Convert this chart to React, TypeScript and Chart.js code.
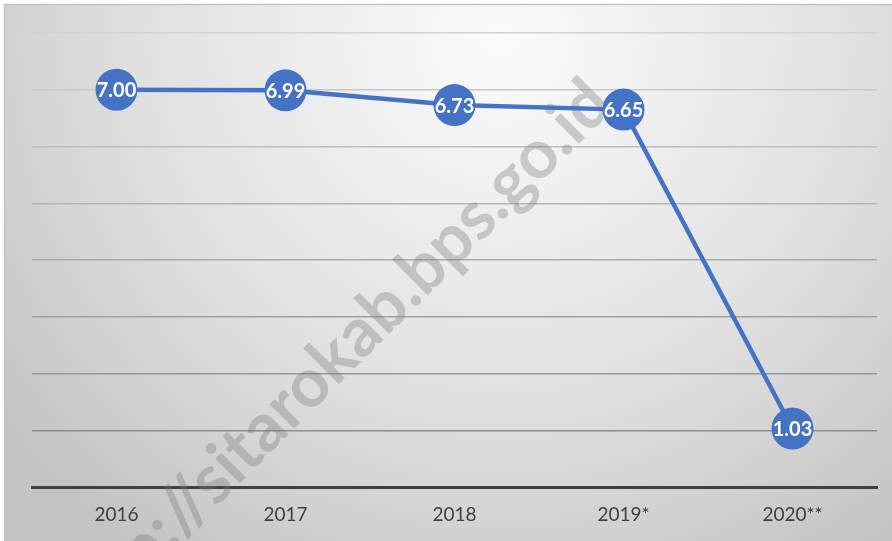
import React, { useEffect, useRef } from "react";
import { Chart, registerables } from "chart.js";

Chart.register(...registerables);

const categories = ["2016", "2017", "2018", "2019*", "2020**"];
const values = [7.0, 6.99, 6.73, 6.65, 1.03];
const valueLabels = ["7.00", "6.99", "6.73", "6.65", "1.03"];
const yMin = 0;
const yMax = 8;
const yStep = 1;
const watermark = "http://sitarokab.bps.go.id";

const W = 892;
const H = 541;

export default function App() {
  const ref = useRef<HTMLCanvasElement | null>(null);

  useEffect(() => {
    if (!ref.current) return;
    const bgPlugin = {
      id: "bg",
      beforeDraw(chart: any) {
        const ctx = chart.ctx;
        ctx.save();
        ctx.fillStyle = "#ffffff";
        ctx.fillRect(0, 0, W, H);
        const g = ctx.createRadialGradient(500, 40, 0, 500, 40, 620);
        g.addColorStop(0, "#fbfbfb");
        g.addColorStop(0.55, "#e2e2e2");
        g.addColorStop(1, "#c4c4c4");
        ctx.fillStyle = g;
        ctx.fillRect(4, 4, W - 4, H - 4);
        ctx.strokeStyle = "#c4c4c4";
        ctx.lineWidth = 1.5;
        ctx.strokeRect(4.5, 4.5, W, H);
        ctx.restore();
      },
      beforeDatasetsDraw(chart: any) {
        const ctx = chart.ctx;
        ctx.save();
        ctx.translate(334, 358);
        ctx.rotate((-45 * Math.PI) / 180);
        ctx.font = "bold 68px Lato";
        ctx.fillStyle = "rgba(120,120,120,0.35)";
        ctx.textAlign = "center";
        ctx.textBaseline = "middle";
        ctx.fillText(watermark, 0, 0);
        ctx.restore();
      },
      afterDatasetsDraw(chart: any) {
        const ctx = chart.ctx;
        const meta = chart.getDatasetMeta(0);
        ctx.save();
        ctx.font = "bold 20px Lato";
        ctx.fillStyle = "#ffffff";
        ctx.textAlign = "center";
        ctx.textBaseline = "middle";
        meta.data.forEach((pt: any, i: number) => {
          ctx.fillText(valueLabels[i], pt.x, pt.y + 1);
        });
        ctx.restore();
      },
    };

    const chart = new Chart(ref.current, {
      type: "line",
      data: {
        labels: categories,
        datasets: [
          {
            data: values,
            borderColor: "#4472C4",
            backgroundColor: "#4472C4",
            borderWidth: 4.5,
            pointRadius: 21,
            pointBorderWidth: 0,
            pointBackgroundColor: "#4472C4",
            tension: 0,
            clip: false as any,
          },
        ],
      },
      options: {
        animation: false,
        responsive: false,
        maintainAspectRatio: false,
        layout: { autoPadding: false, padding: { left: 4, right: 15, top: 33, bottom: 0 } },
        plugins: {
          legend: { display: false },
          tooltip: { enabled: false },
          title: { display: false },
        },
        scales: {
          x: {
            offset: true,
            grid: { display: false, drawTicks: false, offset: true },
            border: { display: true, color: "#404040", width: 3 },
            ticks: {
              color: "#404040",
              font: { family: "Lato", size: 19 },
              padding: 16,
              maxRotation: 0,
            },
            afterFit: (s: any) => {
              s.height = 54;
              s.paddingLeft = 0;
              s.paddingRight = 0;
            },
          },
          y: {
            min: yMin,
            max: yMax,
            ticks: { display: false, stepSize: yStep },
            border: { display: false },
            afterFit: (s: any) => {
              s.width = 28;
            },
            grid: {
              drawTicks: false,
              lineWidth: 1.5,
              color: (c: any) => {
                const v = c.tick ? c.tick.value : 0;
                if (v === 0) return "rgba(0,0,0,0)";
                const t = (8 - v) / 7;
                const l = Math.round(210 - t * 70);
                return `rgb(${l},${l},${l})`;
              },
            },
          },
        },
      },
      plugins: [bgPlugin],
    });
    return () => chart.destroy();
  }, []);

  return (
    <div style={{ position: "fixed", left: 0, top: 0, width: W, height: H }}>
      <canvas ref={ref} width={W} height={H} style={{ width: W, height: H, display: "block" }} />
    </div>
  );
}
